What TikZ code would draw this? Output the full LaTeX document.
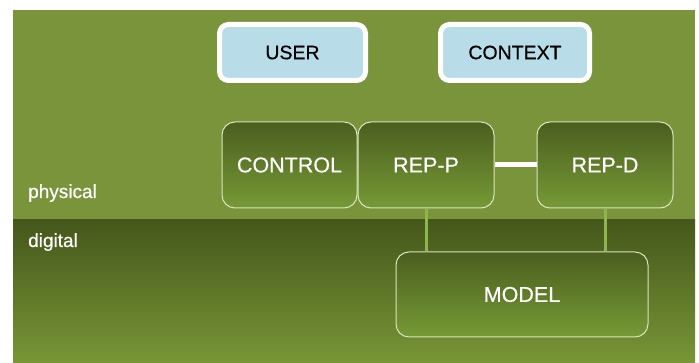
\documentclass[tikz,border=0pt]{standalone}
\usepackage{fontspec}
\setmainfont{Liberation Sans}
\newfontfamily\labelfont[FakeBold=0.5]{Liberation Sans}
\definecolor{bggreen}{RGB}{122,148,60}
\definecolor{darkgreen}{RGB}{69,87,27}
\definecolor{lowgreen}{RGB}{120,150,54}
\definecolor{boxtop}{RGB}{74,94,30}
\definecolor{boxbot}{RGB}{119,154,54}
\definecolor{boxedge}{RGB}{218,228,190}
\definecolor{paleblue}{RGB}{184,221,232}
\definecolor{linkgreen}{RGB}{143,181,78}
\tikzset{
  actor/.style={draw=white, line width=5pt, fill=paleblue, rounded corners=9pt,
    minimum height=56pt, text=black, font=\labelfont\fontsize{19.5}{23}\selectfont, inner sep=0pt},
  part/.style={shade, top color=boxtop, bottom color=boxbot, draw=boxedge, line width=1pt,
    rounded corners=13pt, minimum height=86pt, text=white,
    font=\labelfont\fontsize{21.5}{25}\selectfont, inner sep=0pt},
  layertext/.style={text=white, anchor=base west, font=\labelfont\fontsize{19}{22}\selectfont, inner sep=0pt},
  vlink/.style={draw=linkgreen, line width=3pt},
  hlink/.style={draw=white, line width=5pt}
}
\begin{document}
\begin{tikzpicture}[x=1pt, y=-1pt]
  \useasboundingbox (0,0) rectangle (699,363);
  \fill[white] (0,0) rectangle (699,363);
  % physical layer
  \fill[bggreen] (13,10) rectangle (695,220);
  % digital layer
  \shade[top color=darkgreen, bottom color=lowgreen] (13,220) rectangle (695,363);

  \node[layertext] (phys) at (28,198) {physical};
  \node[layertext] (digi) at (28,247) {digital};

  \node[actor, minimum width=146pt] (user) at (292.5,52.5) {USER};
  \node[actor, minimum width=149pt] (context) at (515,52.5) {CONTEXT};

  \node[part, minimum width=135pt] (control) at (289.5,165) {CONTROL};
  \node[part, minimum width=136pt] (repp) at (426,165) {REP-P};
  \node[part, minimum width=136pt] (repd) at (605,165) {REP-D};
  \node[part, minimum width=252pt, minimum height=85pt] (model) at (522,294.5) {MODEL};

  \draw[hlink] (repp.east) -- (repd.west);
  \draw[vlink] (repp.south) -- (repp.south |- model.north);
  \draw[vlink] (repd.south) -- (repd.south |- model.north);
\end{tikzpicture}
\end{document}
